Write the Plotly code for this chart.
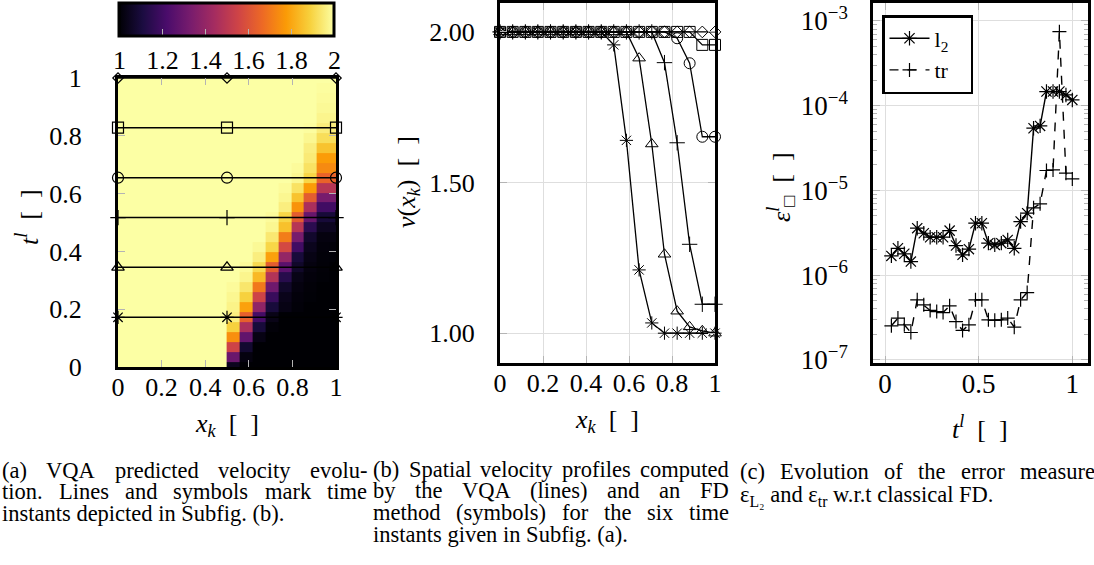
import plotly.graph_objects as go

# ---------------- data ----------------
# spatial grid (18 points) and time grid (30 points)
x_grid = [0.000, 0.059, 0.118, 0.176, 0.235, 0.294, 0.353, 0.412, 0.471,
          0.529, 0.588, 0.647, 0.706, 0.765, 0.824, 0.882, 0.941, 1.000]
t_grid = [0.000, 0.034, 0.069, 0.103, 0.138, 0.172, 0.207, 0.241, 0.276, 0.310,
          0.345, 0.379, 0.414, 0.448, 0.483, 0.517, 0.552, 0.586, 0.621, 0.655,
          0.690, 0.724, 0.759, 0.793, 0.828, 0.862, 0.897, 0.931, 0.966, 1.000]

# VQA velocity field v(x, t): one row per time step
v_field = [
    [2, 2, 2, 2, 2, 2, 2, 2, 2, 1.05, 1.00, 1.00, 1.00, 1.00, 1.00, 1.00, 1.00, 1.00],
    [2, 2, 2, 2, 2, 2, 2, 2, 2, 1.30, 1.02, 1.00, 1.00, 1.00, 1.00, 1.00, 1.00, 1.00],
    [2, 2, 2, 2, 2, 2, 2, 2, 2, 1.55, 1.08, 1.00, 1.00, 1.00, 1.00, 1.00, 1.00, 1.00],
    [2, 2, 2, 2, 2, 2, 2, 2, 2, 1.75, 1.28, 1.03, 1.00, 1.00, 1.00, 1.00, 1.00, 1.00],
    [2, 2, 2, 2, 2, 2, 2, 2, 2, 1.89, 1.46, 1.10, 1.01, 1.00, 1.00, 1.00, 1.00, 1.00],
    [2, 2, 2, 2, 2, 2, 2, 2, 2, 1.96, 1.64, 1.21, 1.035, 1.00, 1.00, 1.00, 1.00, 1.00],
    [2, 2, 2, 2, 2, 2, 2, 2, 2, 1.97, 1.79, 1.39, 1.10, 1.03, 1.01, 1.00, 1.00, 1.00],
    [2, 2, 2, 2, 2, 2, 2, 2, 2, 1.98, 1.89, 1.55, 1.18, 1.04, 1.012, 1.005, 1.00, 1.00],
    [2, 2, 2, 2, 2, 2, 2, 2, 2, 1.99, 1.94, 1.70, 1.31, 1.07, 1.02, 1.008, 1.00, 1.00],
    [2, 2, 2, 2, 2, 2, 2, 2, 2, 2.00, 1.975, 1.84, 1.48, 1.14, 1.033, 1.012, 1.005, 1.00],
    [2, 2, 2, 2, 2, 2, 2, 2, 2, 2.00, 1.99, 1.91, 1.63, 1.26, 1.07, 1.02, 1.008, 1.00],
    [2, 2, 2, 2, 2, 2, 2, 2, 2, 2.00, 2.00, 1.96, 1.79, 1.40, 1.10, 1.03, 1.01, 1.005],
    [2, 2, 2, 2, 2, 2, 2, 2, 2, 2.00, 2.00, 1.985, 1.90, 1.57, 1.20, 1.045, 1.012, 1.01],
    [2, 2, 2, 2, 2, 2, 2, 2, 2, 2.00, 2.00, 2.00, 1.945, 1.71, 1.33, 1.075, 1.02, 1.02],
    [2, 2, 2, 2, 2, 2, 2, 2, 2, 2.00, 2.00, 2.00, 1.98, 1.855, 1.49, 1.15, 1.05, 1.05],
    [2, 2, 2, 2, 2, 2, 2, 2, 2, 2.00, 2.00, 2.00, 1.99, 1.90, 1.63, 1.295, 1.096, 1.096],
    [2, 2, 2, 2, 2, 2, 2, 2, 2, 2.00, 2.00, 2.00, 2.00, 1.96, 1.76, 1.46, 1.20, 1.20],
    [2, 2, 2, 2, 2, 2, 2, 2, 2, 2.00, 2.00, 2.00, 2.00, 1.98, 1.86, 1.63, 1.33, 1.33],
    [2, 2, 2, 2, 2, 2, 2, 2, 2, 2.00, 2.00, 2.00, 2.00, 1.99, 1.93, 1.78, 1.49, 1.49],
    [2, 2, 2, 2, 2, 2, 2, 2, 2, 2.00, 2.00, 2.00, 2.00, 2.00, 1.98, 1.90, 1.65, 1.65],
    [2, 2, 2, 2, 2, 2, 2, 2, 2, 2.00, 2.00, 2.00, 2.00, 2.00, 1.99, 1.93, 1.74, 1.74],
    [2, 2, 2, 2, 2, 2, 2, 2, 2, 2.00, 2.00, 2.00, 2.00, 2.00, 2.00, 1.95, 1.78, 1.78],
    [2, 2, 2, 2, 2, 2, 2, 2, 2, 2.00, 2.00, 2.00, 2.00, 2.00, 2.00, 1.96, 1.86, 1.86],
    [2, 2, 2, 2, 2, 2, 2, 2, 2, 2.00, 2.00, 2.00, 2.00, 2.00, 2.00, 1.98, 1.92, 1.92],
    [2, 2, 2, 2, 2, 2, 2, 2, 2, 2.00, 2.00, 2.00, 2.00, 2.00, 2.00, 1.995, 1.957, 1.957],
    [2, 2, 2, 2, 2, 2, 2, 2, 2, 2.00, 2.00, 2.00, 2.00, 2.00, 2.00, 2.00, 1.975, 1.975],
    [2, 2, 2, 2, 2, 2, 2, 2, 2, 2.00, 2.00, 2.00, 2.00, 2.00, 2.00, 2.00, 1.985, 1.985],
    [2, 2, 2, 2, 2, 2, 2, 2, 2, 2.00, 2.00, 2.00, 2.00, 2.00, 2.00, 2.00, 1.99, 1.99],
    [2, 2, 2, 2, 2, 2, 2, 2, 2, 2.00, 2.00, 2.00, 2.00, 2.00, 2.00, 2.00, 1.995, 1.995],
    [2, 2, 2, 2, 2, 2, 2, 2, 2, 2.00, 2.00, 2.00, 2.00, 2.00, 2.00, 2.00, 2.00, 2.00],
]

# six marked time instants (lines in subfig a, profiles in subfig b)
t_marks = [0.172, 0.345, 0.517, 0.655, 0.828, 1.000]
x_marks = [0.0, 0.5, 1.0]
mark_symbols = ["asterisk-open", "triangle-up-open", "cross-thin-open",
                "circle-open", "square-open", "diamond-open"]

# spatial velocity profiles at the six instants
v_star = [2, 2, 2, 2, 2, 2, 2, 2, 2, 1.957, 1.64, 1.21, 1.034, 1.00, 1.00, 1.00, 1.00, 1.00]
v_tri = [2, 2, 2, 2, 2, 2, 2, 2, 2, 2, 2, 1.913, 1.628, 1.262, 1.073, 1.021, 1.008, 1.00]
v_plus = [2, 2, 2, 2, 2, 2, 2, 2, 2, 2, 2, 2, 2, 1.898, 1.632, 1.295, 1.096, 1.096]
v_circ = [2, 2, 2, 2, 2, 2, 2, 2, 2, 2, 2, 2, 2, 2, 1.979, 1.896, 1.652, 1.652]
v_sq = [2, 2, 2, 2, 2, 2, 2, 2, 2, 2, 2, 2, 2, 2, 2, 2, 1.957, 1.957]
v_dia = [2, 2, 2, 2, 2, 2, 2, 2, 2, 2, 2, 2, 2, 2, 2, 2, 2, 2]
profiles = [v_star, v_tri, v_plus, v_circ, v_sq, v_dia]

# error measures vs time
t_err = [0.034, 0.069, 0.103, 0.138, 0.172, 0.207, 0.241, 0.276, 0.310, 0.345,
         0.379, 0.414, 0.448, 0.483, 0.517, 0.552, 0.586, 0.621, 0.655, 0.690,
         0.724, 0.759, 0.793, 0.828, 0.862, 0.897, 0.931, 0.966, 1.000]
err_l2 = [1.69e-6, 2.08e-6, 1.79e-6, 1.45e-6, 3.59e-6, 3.13e-6, 2.81e-6, 2.81e-6, 2.81e-6, 3.36e-6,
          2.24e-6, 1.74e-6, 2.03e-6, 4.11e-6, 4.11e-6, 2.39e-6, 2.28e-6, 2.39e-6, 2.61e-6, 2.08e-6,
          4.30e-6, 5.40e-6, 5.43e-5, 5.78e-5, 1.47e-4, 1.47e-4, 1.47e-4, 1.34e-4, 1.17e-4]
err_tr = [2.53e-7, 3.12e-7, 2.60e-7, 2.11e-7, 5.13e-7, 4.48e-7, 3.84e-7, 3.73e-7, 3.63e-7, 4.35e-7,
          2.84e-7, 2.23e-7, 2.60e-7, 5.13e-7, 5.13e-7, 2.98e-7, 2.94e-7, 2.98e-7, 3.12e-7, 2.44e-7,
          5.13e-7, 6.25e-7, 6.24e-6, 6.95e-6, 1.72e-5, 1.75e-5, 7.48e-4, 1.60e-5, 1.37e-5]

cbar_ticks = [1, 1.2, 1.4, 1.6, 1.8, 2]
cbar_ticktext = ["1", "1.2", "1.4", "1.6", "1.8", "2"]
x_ticks = [0, 0.2, 0.4, 0.6, 0.8, 1]
x_ticktext = ["0", "0.2", "0.4", "0.6", "0.8", "1"]
log_major = [1e-7, 1e-6, 1e-5, 1e-4, 1e-3]
log_major_text = ["10<sup>−7</sup>", "10<sup>−6</sup>", "10<sup>−5</sup>",
                  "10<sup>−4</sup>", "10<sup>−3</sup>"]
log_minor = [m * d for d in [1e-7, 1e-6, 1e-5, 1e-4] for m in range(2, 10)]

# ---------------- figure ----------------
W, H = 1094, 565
FONT = "Liberation Serif"
BLACK = "black"
TICKGRAY = "#b4b4b4"
GRID = "#dedede"
SP = "&nbsp;"


def px(xp):
    return xp / W


def py(yp):
    return 1 - yp / H


fig = go.Figure()

# (a) heatmap
fig.add_trace(go.Heatmap(
    x=x_grid, y=t_grid, z=v_field, zmin=1, zmax=2, colorscale="Inferno",
    xaxis="x", yaxis="y", hoverinfo="skip",
    colorbar=dict(orientation="h", x=px(227), xanchor="center", y=py(3.5), yanchor="top",
                  len=215, lenmode="pixels", thickness=33, thicknessmode="pixels",
                  outlinewidth=3, outlinecolor=BLACK, xpad=0, ypad=0,
                  tickvals=cbar_ticks, ticktext=cbar_ticktext, ticks="inside",
                  ticklen=8, tickcolor=TICKGRAY, tickwidth=1,
                  tickfont=dict(family=FONT, size=26, color=BLACK)),
))
for t, sym in zip(t_marks, mark_symbols):
    size = 8 if sym.startswith("diamond") else 11
    fig.add_trace(go.Scatter(
        x=x_marks, y=[t] * len(x_marks), mode="lines+markers", xaxis="x", yaxis="y",
        line=dict(color=BLACK, width=1.5), cliponaxis=False, showlegend=False,
        marker=dict(symbol=sym, size=size, color=BLACK, line=dict(color=BLACK, width=1.2)),
    ))

# (b) profiles
for v, sym in zip(profiles, mark_symbols):
    size = 9 if sym.startswith("diamond") else 11
    fig.add_trace(go.Scatter(
        x=x_grid, y=v, mode="lines+markers", xaxis="x2", yaxis="y2",
        line=dict(color=BLACK, width=1.3), cliponaxis=False, showlegend=False,
        marker=dict(symbol=sym, size=size, color=BLACK, line=dict(color=BLACK, width=1)),
    ))

# (c) errors
fig.add_trace(go.Scatter(
    x=t_err, y=err_l2, mode="lines+markers", name="l<sub>2</sub>" + SP * 3,
    xaxis="x3", yaxis="y3",
    line=dict(color=BLACK, width=1.4),
    marker=dict(symbol="asterisk-open", size=12, color=BLACK, line=dict(color=BLACK, width=1.2)),
))
fig.add_trace(go.Scatter(
    x=t_err, y=err_tr, mode="lines+markers", name="tr" + SP * 3, xaxis="x3", yaxis="y3",
    line=dict(color=BLACK, width=1.4, dash="dash"),
    marker=dict(symbol="cross-thin-open", size=10, color=BLACK, line=dict(color=BLACK, width=1.2)),
))


def frame(size):
    return dict(showline=True, linecolor=BLACK, linewidth=3, mirror="ticks",
                ticks="inside", tickcolor=TICKGRAY, ticklen=7, tickwidth=1,
                zeroline=False, tickfont=dict(family=FONT, size=size, color=BLACK))


fig.update_layout(
    width=W, height=H, margin=dict(l=0, r=0, t=0, b=0, autoexpand=False),
    paper_bgcolor="white", plot_bgcolor="white",
    font=dict(family=FONT, size=20, color=BLACK),
    xaxis=dict(domain=[px(118), px(336)], range=[0, 1], anchor="y",
               tickvals=x_ticks, ticktext=x_ticktext, showgrid=False,
               ticklabelstandoff=-5, **frame(26)),
    yaxis=dict(domain=[py(367), py(78)], range=[0, 1], anchor="x",
               tickvals=x_ticks, ticktext=x_ticktext, showgrid=False,
               ticklabelstandoff=28, **frame(26)),
    xaxis2=dict(domain=[px(500), px(715)], range=[0, 1], anchor="y2",
                tickvals=x_ticks, ticktext=x_ticktext, showgrid=True, gridcolor=GRID,
                ticklabelstandoff=-5, **frame(26)),
    yaxis2=dict(domain=[py(362.7), py(2.7)], range=[0.902, 2.097], anchor="x2",
                tickvals=[1.0, 1.5, 2.0], ticktext=["1.00", "1.50", "2.00"],
                showgrid=True, gridcolor=GRID, ticklabelstandoff=17, **frame(26)),
    xaxis3=dict(domain=[px(873.3), px(1088)], range=[-0.0625, 1.0837], anchor="y3",
                tickvals=[0, 0.5, 1], ticktext=["0", "0.5", "1"], showgrid=True,
                gridcolor=GRID, ticklabelstandoff=-5, **frame(27)),
    yaxis3=dict(domain=[py(362.7), py(3)], type="log", range=[-7.032, -2.788], anchor="x3",
                tickvals=log_major, ticktext=log_major_text,
                showgrid=True, gridcolor=GRID, ticklabelstandoff=17,
                minor=dict(tickvals=log_minor, ticks="inside", ticklen=4,
                           tickcolor=TICKGRAY, showgrid=False),
                **frame(27)),
    legend=dict(x=px(882), y=py(15), xanchor="left", yanchor="top",
                bordercolor=BLACK, borderwidth=2.5, bgcolor="white",
                font=dict(family=FONT, size=22, color=BLACK),
                tracegroupgap=0, itemwidth=40),
    showlegend=True,
)

ann = []


def label(x, y, text, angle=0, size=26):
    ann.append(dict(x=px(x), y=py(y), xref="paper", yref="paper", text=text,
                    showarrow=False, textangle=angle, xanchor="center", yanchor="middle",
                    font=dict(family=FONT, size=size, color=BLACK)))


brackets = SP + SP + "[" + SP + SP + "]"
label(27, 217, "<i>t<sup>l</sup></i>" + brackets, angle=-90)
label(227, 425, "<i>x<sub>k</sub></i>" + brackets)
label(408, 182, "<i>v</i>(<i>x<sub>k</sub></i>)" + brackets, angle=-90)
label(607, 421, "<i>x<sub>k</sub></i>" + brackets)
label(781, 187, "<i>ε</i><sup><i>l</i></sup><sub>□</sub>" + brackets, angle=-90)
label(980, 427, "<i>t<sup>l</sup></i>" + brackets)

# ---- captions (justified like the typeset original) ----
CAP = 22.5
# Times-compatible advance widths (per 1000 em) for Liberation Serif
_w = {' ': 250, '(': 333, ')': 333, '.': 250, ',': 250, '-': 333,
      'a': 444, 'b': 500, 'c': 444, 'd': 500, 'e': 444, 'f': 333, 'g': 500, 'h': 500,
      'i': 278, 'j': 278, 'k': 500, 'l': 278, 'm': 778, 'n': 500, 'o': 500, 'p': 500,
      'q': 500, 'r': 333, 's': 389, 't': 278, 'u': 500, 'v': 500, 'w': 722, 'x': 500,
      'y': 500, 'z': 444, 'A': 722, 'B': 667, 'C': 667, 'D': 722, 'E': 611, 'F': 556,
      'G': 722, 'H': 722, 'I': 333, 'L': 611, 'M': 889, 'N': 722, 'O': 722, 'P': 556,
      'Q': 722, 'R': 667, 'S': 556, 'T': 611, 'U': 722, 'V': 722}


def text_w(s, size=CAP):
    return sum(_w.get(c, 500) for c in s) * size / 1000.0


def cap_text(x, y, text):
    ann.append(dict(x=px(x), y=py(y), xref="paper", yref="paper", text=text,
                    showarrow=False, xanchor="left", yanchor="middle",
                    font=dict(family=FONT, size=CAP, color=BLACK)))


def cap_line(x0, x1, y, line, justify=True):
    words = line.split()
    if not justify or len(words) < 2:
        cap_text(x0, y, line)
        return
    total = sum(text_w(wd) for wd in words)
    gap = (x1 - x0 - total) / (len(words) - 1)
    x = x0
    for wd in words:
        cap_text(x, y, wd)
        x += text_w(wd) + gap


cap_a = ["(a) VQA predicted velocity evolu-",
         "tion. Lines and symbols mark time",
         "instants depicted in Subfig. (b)."]
cap_b = ["(b) Spatial velocity profiles computed",
         "by the VQA (lines) and an FD",
         "method (symbols) for the six time",
         "instants given in Subfig. (a)."]
cap_c1 = "(c) Evolution of the error measures"
cap_c2 = "ε<sub>L₂</sub> and ε<sub>tr</sub> w.r.t classical FD."

LS = 21.7
for i, line in enumerate(cap_a):
    cap_line(0, 365, 470 + LS * i, line, justify=(i < len(cap_a) - 1))
for i, line in enumerate(cap_b):
    cap_line(371, 727, 469 + LS * i, line, justify=(i < len(cap_b) - 1))
cap_line(738, 1102, 471, cap_c1, justify=True)
cap_text(738, 496, cap_c2)

fig.update_layout(annotations=ann)
fig.write_html("out.html")
